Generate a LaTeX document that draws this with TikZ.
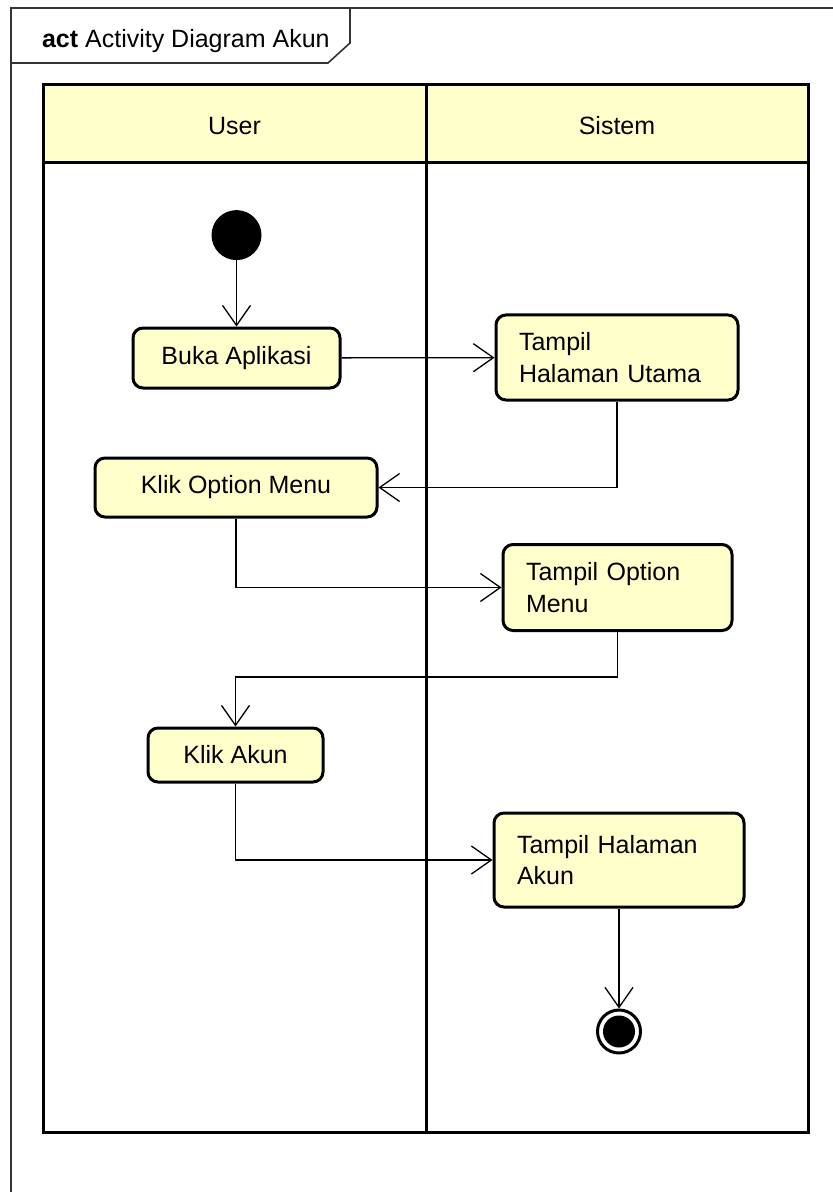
\documentclass[tikz,border=0pt]{standalone}
\usepackage{fontspec}
\setmainfont{Liberation Sans}
\usepackage{tikz}
\usetikzlibrary{positioning}
\usetikzlibrary{arrows.meta}
\definecolor{kuning}{HTML}{FFFFCC}
\definecolor{bingkai}{HTML}{333333}

\tikzset{
  aksi/.style={draw, line width=1.5pt, rounded corners=5pt, fill=kuning, inner sep=0pt},
  aksikiri/.style={aksi, align=left, inner xsep=11.5pt},
  alur/.style={line width=0.65pt, -{Straight Barb[length=10pt,width=14pt]}},
  lajur/.style={line width=1.5pt},
  titikawal/.style={circle, fill=black, inner sep=0pt, minimum size=25pt},
  titikakhir/.style={circle, draw, line width=1.5pt, fill=white, inner sep=0pt, minimum size=21.5pt,
    path picture={\fill[black] (path picture bounding box.center) circle (8pt);}},
}

\begin{document}
\begin{tikzpicture}[x=0.5pt, y=-0.5pt, font=\fontsize{12.5}{15.75}\selectfont]
      \useasboundingbox (0,0) rectangle (833,1192);

      % bingkai diagram
      \draw[bingkai, line width=0.8pt] (11,1192) -- (11,8) -- (833,8);
      \draw[bingkai, line width=0.8pt] (11,63) -- (328,63) -- (350,43) -- (350,8);
      \node[anchor=base west] (judul) at (35,48) {\textbf{act} Activity Diagram Akun};

      % swimlane
      \fill[kuning] (43,85) rectangle (808,163);
      \draw[lajur] (43,85) rectangle (808,1132);
      \draw[lajur] (43,163) -- (808,163);
      \draw[lajur] (426,85) -- (426,1132);
      \node(user) at (234.5,126) {User};
      \node(sistem) at (617,126) {Sistem};

      \node(buka) [aksi, minimum width=103.5pt, minimum height=30pt] at (236.5,358) {Buka Aplikasi};
      \node(halutama) [aksikiri, text width=98pt, minimum height=42.5pt] at (617,357.5) {Tampil\\Halaman Utama};
      \node(klikmenu) [aksi, minimum width=141pt, minimum height=29.5pt] at (236,487.5) {Klik Option Menu};
      \node(menu) [aksikiri, text width=91.5pt, minimum height=43pt] at (617.5,587.5) {Tampil Option\\Menu};
      \node(klikakun) [aksi, minimum width=87.5pt, minimum height=27pt] at (235.5,755) {Klik Akun};
      \node(halakun) [aksikiri, text width=102pt, minimum height=47pt] at (619,860) {Tampil Halaman\\Akun};
      \node(awal) [titikawal, above=33pt of buka] {};
      \node(akhir) [titikakhir, below=50pt of halakun] {};

      \draw[alur] (awal) -- (buka);
      \draw[alur] (buka) -- (halutama);
      \draw[alur] (halutama.south) |- (klikmenu.east);
      \draw[alur] (klikmenu.south) |- (menu.west);
      \draw[alur] (menu.south) -- ++(0,45) -| (klikakun.north);
      \draw[alur] (klikakun.south) |- (halakun.west);
      \draw[alur] (halakun) -- (akhir);
    \end{tikzpicture}
\end{document}
